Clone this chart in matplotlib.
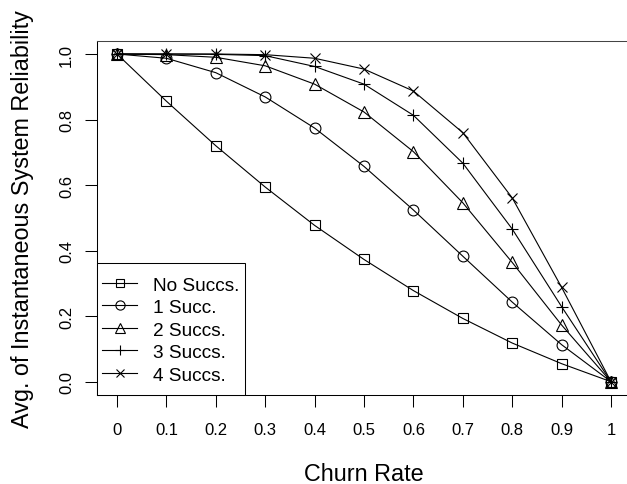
import matplotlib
matplotlib.use("Agg")
import matplotlib.pyplot as plt
import numpy as np

churn = [0.0, 0.1, 0.2, 0.3, 0.4, 0.5, 0.6, 0.7, 0.8, 0.9, 1.0]
no_succ = [1.0, 0.856, 0.720, 0.594, 0.477, 0.373, 0.278, 0.193, 0.118, 0.055, 0.0]
one_succ = [1.0, 0.987, 0.943, 0.869, 0.774, 0.657, 0.524, 0.383, 0.243, 0.113, 0.0]
two_succ = [1.0, 0.998, 0.990, 0.964, 0.908, 0.823, 0.702, 0.546, 0.364, 0.173, 0.0]
three_succ = [1.0, 1.0, 0.999, 0.995, 0.962, 0.908, 0.813, 0.667, 0.466, 0.229, 0.0]
four_succ = [1.0, 1.0, 1.0, 0.998, 0.987, 0.954, 0.887, 0.760, 0.561, 0.288, 0.0]

labels = ["No Succs.", "1 Succ.", "2 Succs.", "3 Succs.", "4 Succs."]
xtick_vals = [0, 0.1, 0.2, 0.3, 0.4, 0.5, 0.6, 0.7, 0.8, 0.9, 1]
xtick_labels = ["0", "0.1", "0.2", "0.3", "0.4", "0.5", "0.6", "0.7", "0.8", "0.9", "1"]
ytick_vals = [0.0, 0.2, 0.4, 0.6, 0.8, 1.0]
ytick_labels = ["0.0", "0.2", "0.4", "0.6", "0.8", "1.0"]

plt.rcParams['font.family'] = ['Liberation Sans', 'DejaVu Sans']

W, H = 627, 485
fig = plt.figure(figsize=(W / 100, H / 100), dpi=100)
left_px, right_px = 97.24, 630.76
top_px, bot_px = 41.9, 395.8
ax = fig.add_axes([left_px / W, (H - bot_px) / H, (right_px - left_px) / W, (bot_px - top_px) / H])

series = [no_succ, one_succ, two_succ, three_succ, four_succ]
markers = ['s', 'o', '^', '+', 'x']
msizes = [6.8, 7.8, 8.6, 9.0, 7.6]
for ys, m, ms, lab in zip(series, markers, msizes, labels):
    ax.plot(churn, ys, color='black', lw=0.8, marker=m, ms=ms, mfc='none',
            mec='black', mew=0.8, label=lab, clip_on=False)

ax.set_xlim(-0.04, 1.04)
ax.set_ylim(-0.04, 1.04)
ax.set_xticks(xtick_vals)
ax.set_xticklabels(xtick_labels, fontsize=12)
ax.set_yticks(ytick_vals)
ax.set_yticklabels(ytick_labels, fontsize=12, rotation=90, va='center')
ax.tick_params(axis='both', direction='out', length=8.6, width=0.75, color='black')
ax.tick_params(axis='x', pad=11.0)
ax.tick_params(axis='y', pad=8.0)
for name, s in ax.spines.items():
    s.set_linewidth(0.75)
    s.set_color('black')
ax.spines['top'].set_color('#444444')

ax.set_xlabel("Churn Rate", fontsize=16.8)
ax.xaxis.set_label_coords(0.5, (bot_px - 475) / (bot_px - top_px))
ax.xaxis.label.set_verticalalignment('center')
ax.set_ylabel("Avg. of Instantaneous System Reliability", fontsize=16.8)
ax.yaxis.set_label_coords((23 - left_px) / (right_px - left_px), 0.5)
ax.yaxis.label.set_verticalalignment('center')

leg = ax.legend(loc='lower left', bbox_to_anchor=(0, 0), borderaxespad=0,
                fontsize=13.7, frameon=True, fancybox=False, framealpha=1,
                edgecolor='black', handlelength=1.83, handletextpad=0.85,
                handleheight=2.25, labelspacing=-0.53, borderpad=0.26,
                markerscale=0.85)
leg.get_frame().set_linewidth(0.75)
# centre the legend samples on the text rows
for h in leg.legend_handles:
    h.set_ydata(np.asarray(h.get_ydata(), dtype=float) - 3.0)

fig.savefig("out.png", dpi=100)
